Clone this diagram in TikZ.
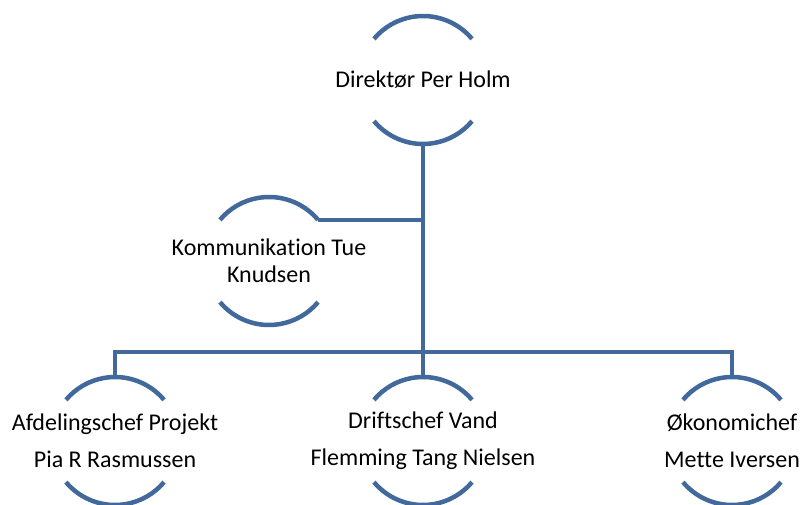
\documentclass[tikz,border=0pt]{standalone}
\usepackage{fontspec}
\setmainfont{Carlito}[Ligatures=NoCommon]
\definecolor{chartblue}{RGB}{65,105,155}
\tikzset{person/.style={minimum height=128pt, inner sep=0pt, align=center, font=\fontsize{24}{27}\selectfont},
  link/.style={chartblue, line width=4.5pt}}

\begin{document}
\begin{tikzpicture}[x=1pt, y=1pt]
    \useasboundingbox (0,0) rectangle (801,504);
    \node[person] (boss) at (423,424) {Direktør Per Holm};
    \node[person] (komm) at (269,243) {Kommunikation Tue\\Knudsen};
    \node[person] (projekt) at (115,63) {Afdelingschef Projekt\\[10pt]Pia R Rasmussen};
    \node[person] (drift) at (423,63) {Driftschef Vand\\[10pt]Flemming Tang Nielsen};
    \node[person] (okonomi) at (732,63) {Økonomichef\\[10pt]Mette Iversen};
    \foreach \n in {boss,komm,projekt,drift,okonomi} {
    \draw[link] (\n) ++(40:64pt) arc[start angle=40, end angle=140, radius=64pt];
    \draw[link] (\n) ++(220:64pt) arc[start angle=220, end angle=320, radius=64pt];
    }
    \coordinate (bus) at (boss.south |- 0,152);
    \draw[link] (boss.south) -- (bus);
    \draw[link] (komm) ++(40:64pt) coordinate (kommjoin) -- (kommjoin -| boss.south);
    \foreach \n in {projekt,drift,okonomi}
    \draw[link] (bus) -| (\n.north);
\end{tikzpicture}
\end{document}
